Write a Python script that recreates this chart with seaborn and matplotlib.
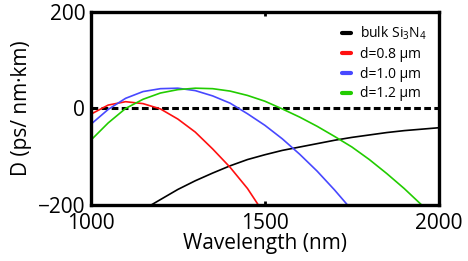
import seaborn as sns
import pandas as pd
import matplotlib.pyplot as plt

# values (wavelength in nm, D in ps/(nm km))
wl_bulk = [1174, 1200, 1250, 1300, 1350, 1400, 1450, 1500, 1550, 1600, 1650,
           1700, 1750, 1800, 1850, 1900, 1950, 2000]
d_bulk = [-200, -189, -168, -150, -134, -119, -106, -96, -87, -80, -73,
          -66, -60, -55, -50, -46, -43, -40]

wl_08 = [1000, 1050, 1100, 1150, 1200, 1250, 1300, 1350, 1400, 1450, 1481]
d_08 = [-12, 7, 14, 10, -1, -22, -49, -84, -122, -166, -200]

wl_10 = [1000, 1050, 1100, 1150, 1200, 1250, 1300, 1350, 1400, 1450, 1500,
         1550, 1600, 1650, 1700, 1737]
d_10 = [-33, -2, 21, 35, 41, 42, 37, 26, 11, -11, -35, -63, -95, -130, -169, -200]

wl_12 = [1000, 1050, 1100, 1150, 1200, 1250, 1300, 1350, 1400, 1450, 1500,
         1550, 1600, 1650, 1700, 1750, 1800, 1850, 1900, 1950]
d_12 = [-66, -30, 0, 19, 32, 39, 42, 41, 36, 27, 15, -1, -18, -37, -58, -80,
        -106, -135, -166, -200]

labels = ['bulk Si$_3$N$_4$', 'd=0.8 µm', 'd=1.0 µm', 'd=1.2 µm']
colors = ['black', '#ff1010', '#4848ff', '#22cc00']
x_ticks = [1000, 1500, 2000]
y_ticks = [-200, 0, 200]

sns.set_style('ticks', {'axes.edgecolor': 'black', 'text.color': 'black',
                        'xtick.color': 'black', 'ytick.color': 'black',
                        'axes.labelcolor': 'black'})
plt.rcParams['font.family'] = ['Open Sans', 'DejaVu Sans']
plt.rcParams['mathtext.default'] = 'regular'

fig = plt.figure(figsize=(4.68, 2.61), dpi=100)
ax = fig.add_axes([0.194, 0.215, 0.744, 0.739])

series = [(wl_bulk, d_bulk), (wl_08, d_08), (wl_10, d_10), (wl_12, d_12)]
for (wl, d), lab, col in zip(series, labels, colors):
    df = pd.DataFrame({'wl': wl, 'D': d})
    sns.lineplot(data=df, x='wl', y='D', color=col, label=lab, lw=1.2, ax=ax)

ax.axhline(0, color='black', lw=2.2, ls=(0, (2.2, 1.1)), zorder=1)

ax.set_xlim(1000, 2000)
ax.set_ylim(-200, 200)
ax.set_xticks(x_ticks)
ax.set_yticks(y_ticks)
ax.tick_params(direction='in', length=3, width=2, labelsize=15,
               top=True, right=True)
ax.tick_params(axis='x', pad=6)
ax.tick_params(axis='y', pad=4)
for s in ax.spines.values():
    s.set_linewidth(2.4)
ax.set_xlabel('Wavelength (nm)', fontsize=15, labelpad=-1)
ax.set_ylabel('D (ps/ nm·km)', fontsize=15, labelpad=4)

ax.legend(loc='upper right', frameon=False, fontsize=10, handlelength=0.7,
          handletextpad=0.6, labelspacing=0.35, borderaxespad=0.5)
for h in ax.get_legend().get_lines():
    h.set_linewidth(3)

fig.savefig('out.png', dpi=100)
